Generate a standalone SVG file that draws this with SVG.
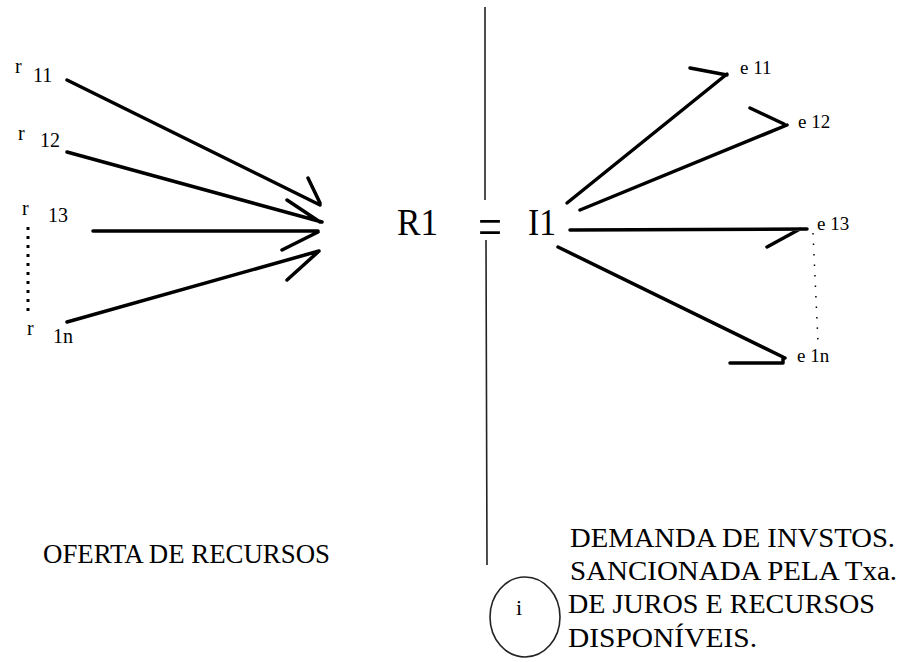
<svg xmlns="http://www.w3.org/2000/svg" width="903" height="662" viewBox="0 0 903 662">
<style>
.t{font-family:"Liberation Serif","Times New Roman",serif;fill:#000}
.sm{font-size:20px}
.es{font-size:19px}
.big{font-size:38px}
.cap{font-size:27px}
.arr{stroke:#000;stroke-width:3.5;fill:none;stroke-linecap:round;stroke-linejoin:round}
.thin{stroke:#222;stroke-width:1.6;fill:none}
</style>
<rect width="903" height="662" fill="#fff"/>
<g id="connectors">
  <path class="arr" d="M67,80 L320,205 M308,178 L320,203"/>
  <path class="arr" d="M67,152 L322,222 M287,200 L320,222"/>
  <path class="arr" d="M93,231 L318,231 M282,250 L318,232"/>
  <path class="arr" d="M67,322 L319,251 M287,280 L318,252"/>
  <path class="arr" d="M567,203 L727,74 M690,68 L727,75"/>
  <path class="arr" d="M580,210 L787,125 M750,108 L784,124"/>
  <path class="arr" d="M570,230 L807,229 M767,247 L800,229"/>
  <path class="arr" d="M558,247 L785,358 M730,363 L783,363 L783,357"/>
  <path d="M28,227 L28,315" stroke="#000" stroke-width="3" stroke-dasharray="3 6"/>
  <path d="M813,233 L818,342" stroke="#000" stroke-width="1.5" stroke-dasharray="1.5 9"/>
  <path class="thin" d="M485,7 L485,200 M486,240 L487,565"/>
</g>
<g id="r11"><text class="t sm" x="15" y="73">r</text><text class="t sm" x="33" y="82">11</text></g>
<g id="r12"><text class="t sm" x="18" y="140">r</text><text class="t sm" x="40" y="147">12</text></g>
<g id="r13"><text class="t sm" x="22" y="215">r</text><text class="t sm" x="48" y="222">13</text></g>
<g id="r1n"><text class="t sm" x="27" y="335">r</text><text class="t sm" x="53" y="343">1n</text></g>
<g id="R1"><text class="t big" x="397" y="235" textLength="41" lengthAdjust="spacingAndGlyphs">R1</text></g>
<g id="eq"><text class="t" x="478" y="246" font-size="56" textLength="24" lengthAdjust="spacingAndGlyphs">=</text></g>
<g id="I1"><text class="t big" x="528" y="235" textLength="28" lengthAdjust="spacingAndGlyphs">I1</text></g>
<g id="e11"><text class="t es" x="740" y="74">e 11</text></g>
<g id="e12"><text class="t es" x="798" y="128">e 12</text></g>
<g id="e13"><text class="t es" x="817" y="230">e 13</text></g>
<g id="e1n"><text class="t es" x="797" y="362">e 1n</text></g>
<g id="oferta"><text class="t cap" x="43" y="563" textLength="287" lengthAdjust="spacingAndGlyphs">OFERTA DE RECURSOS</text></g>
<g id="demanda">
  <text class="t cap" x="570" y="547" textLength="325" lengthAdjust="spacingAndGlyphs">DEMANDA DE INVSTOS.</text>
  <text class="t cap" x="570" y="580" textLength="327" lengthAdjust="spacingAndGlyphs">SANCIONADA PELA Txa.</text>
  <text class="t cap" x="568" y="613" textLength="307" lengthAdjust="spacingAndGlyphs">DE JUROS E RECURSOS</text>
  <text class="t cap" x="568" y="647" textLength="189" lengthAdjust="spacingAndGlyphs">DISPONÍVEIS.</text>
</g>
<g id="i-circle">
  <ellipse cx="525" cy="617" rx="35" ry="40" class="thin"/>
  <text class="t" x="516" y="615" font-size="22">i</text>
</g>
</svg>
